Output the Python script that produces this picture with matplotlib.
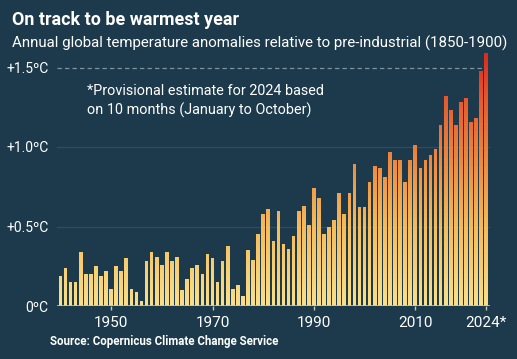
import numpy as np
import matplotlib
matplotlib.use("Agg")
import matplotlib.pyplot as plt
from matplotlib.colors import LinearSegmentedColormap
from matplotlib.path import Path
from matplotlib.patches import PathPatch

# =========================
# DATA (deg C above 1850-1900)
# =========================
years = list(range(1940, 2025))
anomalies = [
    0.19, 0.24, 0.15, 0.15, 0.34, 0.20, 0.20, 0.25, 0.19, 0.22,  # 1940s
    0.11, 0.25, 0.22, 0.30, 0.11, 0.09, 0.03, 0.28, 0.34, 0.31,  # 1950s
    0.26, 0.34, 0.28, 0.31, 0.10, 0.17, 0.24, 0.26, 0.20, 0.33,  # 1960s
    0.30, 0.15, 0.28, 0.38, 0.11, 0.13, 0.06, 0.35, 0.29, 0.45,  # 1970s
    0.58, 0.61, 0.41, 0.60, 0.39, 0.36, 0.44, 0.60, 0.63, 0.51,  # 1980s
    0.74, 0.68, 0.45, 0.50, 0.54, 0.71, 0.58, 0.71, 0.89, 0.62,  # 1990s
    0.62, 0.78, 0.88, 0.87, 0.81, 0.97, 0.92, 0.92, 0.78, 0.92,  # 2000s
    1.01, 0.87, 0.92, 0.95, 0.99, 1.14, 1.32, 1.23, 1.14, 1.28,  # 2010s
    1.31, 1.16, 1.18, 1.48, 1.59,                                # 2020-2024*
]
y_ticks = [0, 0.5, 1.0, 1.5]
y_tick_labels = ["0ºC", "+0.5ºC", "+1.0ºC", "+1.5ºC"]
x_ticks = [1950, 1970, 1990, 2010, 2024]
x_tick_labels = ["1950", "1970", "1990", "2010", "2024*"]

TITLE = "On track to be warmest year"
SUBTITLE = "Annual global temperature anomalies relative to pre-industrial (1850-1900)"
NOTE = "*Provisional estimate for 2024 based\non 10 months (January to October)"
SOURCE = "Source: Copernicus Climate Change Service"

# =========================
# STYLE
# =========================
BG = "#1c3a4b"
plt.rcParams["font.family"] = ["Roboto", "DejaVu Sans"]

heat = LinearSegmentedColormap.from_list(
    "heat",
    [(0.0, "#f9e08a"), (0.3, "#f5bd5a"), (0.55, "#ee8c3e"),
     (0.8, "#e65a2e"), (1.0, "#d9241e")],
)

W, H = 517, 359
fig = plt.figure(figsize=(W / 100, H / 100), dpi=100, facecolor=BG)

# axes: x from 57px to 490px, baseline at 306px, top at 48px
ax_l, ax_r, ax_b, ax_t = 57, 490, 306, 48
ax = fig.add_axes([ax_l / W, 1 - ax_b / H, (ax_r - ax_l) / W, (ax_b - ax_t) / H])
ax.set_facecolor(BG)
px_per_year = 5.07
x0 = 1940 - (60.4 - ax_l) / px_per_year
x1 = x0 + (ax_r - ax_l) / px_per_year
y1 = (ax_b - ax_t) / 159.0

# faint gridlines + dashed 1.5 line
for v in (0.5, 1.0):
    ax.axhline(v, color="#2e4d5e", lw=0.9, zorder=0)
ax.axhline(1.5, color="#7d93a0", lw=0.9, ls=(0, (3.5, 2.5)), zorder=0,
           xmax=(2023.6 - x0) / (x1 - x0))

# bars, filled with a vertical gradient clipped to their shapes
bars = ax.bar(years, anomalies, width=0.72, color="none", edgecolor="none", zorder=2)
paths = [b.get_path().transformed(b.get_patch_transform()) for b in bars]
clip = PathPatch(Path.make_compound_path(*paths), transform=ax.transData,
                 facecolor="none", edgecolor="none")
ax.add_patch(clip)
grad = np.linspace(0, 1, 256).reshape(-1, 1)
im = ax.imshow(grad, cmap=heat, origin="lower", aspect="auto",
               extent=[1939, 2025, 0, 1.62], zorder=2)
im.set_clip_path(clip)
ax.set_xlim(x0, x1)
ax.set_ylim(0, y1)

# baseline
ax.axhline(0, color="#c9c3a8", lw=1.2, zorder=3)

for s in ax.spines.values():
    s.set_visible(False)
ax.set_yticks(y_ticks)
ax.set_yticklabels(y_tick_labels)
ax.set_xticks(x_ticks)
ax.set_xticklabels(x_tick_labels)
ax.tick_params(axis="y", length=0, pad=6, colors="white", labelsize=10)
ax.tick_params(axis="x", length=3, width=1, color="#c9c3a8", pad=4,
               labelcolor="white", labelsize=11)

# texts
fig.text(12 / W, 1 - 20 / H, TITLE, color="white", fontsize=12.9,
         fontweight="bold", va="center", ha="left")
fig.text(12 / W, 1 - 43 / H, SUBTITLE, color="white", fontsize=10.8,
         va="center", ha="left")
fig.text(87 / W, 1 - 101 / H, NOTE, color="white", fontsize=10.4,
         va="center", ha="left", linespacing=1.45)
fig.text(50 / W, 1 - 342 / H, SOURCE, color="white", fontsize=8.3,
         fontweight="bold", va="center", ha="left")

fig.savefig("out.png", dpi=100, facecolor=BG)
